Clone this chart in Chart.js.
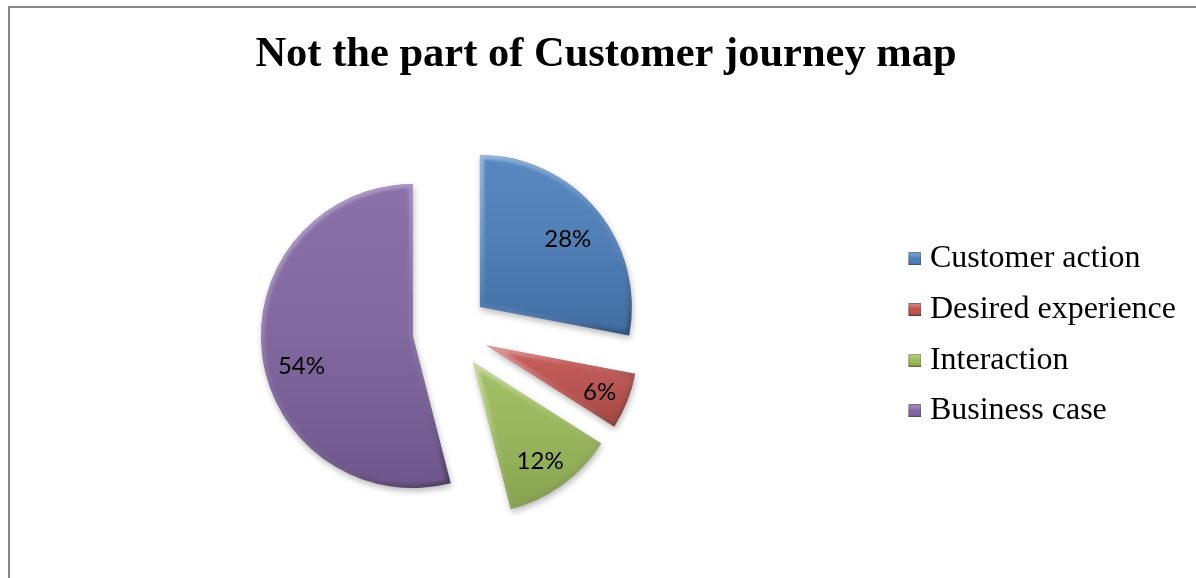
<!DOCTYPE html>
<html>
<head>
<meta charset="utf-8">
<title>Not the part of Customer journey map</title>
<script src="https://cdn.jsdelivr.net/npm/chart.js@4/dist/chart.umd.min.js"></script>
<style>
  html, body { margin: 0; padding: 0; background: #fff; overflow: hidden; }
  #frame {
    position: absolute; left: 8px; top: 6px;
    width: 1300px; height: 700px;
    border: 2px solid #878787;
  }
  #wrap { position: absolute; left: 0; top: 0; width: 1196px; height: 578px; }
</style>
</head>
<body>
<div id="frame"></div>
<div id="wrap"><canvas id="chart-journey"></canvas></div>
<script>
// survey answers, share of respondents in %
const categories = ['Customer action', 'Desired experience', 'Interaction', 'Business case'];
const shares = [28, 6, 12, 54];
const sliceColors = ['#4a7ebb', '#c0504d', '#9bbb59', '#8064a2'];

// how far each slice is pulled out from the centre (px)
const EXPLODE = 38;
// where the % labels sit inside each slice: fraction of radius, angle nudge in degrees
const labelPlacement = [
  { r: 0.73, turn: 2 },
  { r: 0.81, turn: 1 },
  { r: 0.79, turn: 2 },
  { r: 0.76, turn: -8 },
];

/**
 * Arc that is drawn pulled away from the pie centre along its bisector,
 * with a soft shadow and a bevelled rim.
 */
class ExplodedArc extends Chart.ArcElement {
  draw(ctx) {
    const { x, y, startAngle, endAngle, outerRadius: r } = this;
    const mid = (startAngle + endAngle) / 2;
    const dx = Math.cos(mid) * EXPLODE;
    const dy = Math.sin(mid) * EXPLODE;

    ctx.save();
    ctx.translate(dx, dy);
    ctx.shadowColor = 'rgba(0,0,0,0.28)';
    ctx.shadowBlur = 6;
    ctx.shadowOffsetX = 1;
    ctx.shadowOffsetY = 3;
    super.draw(ctx);
    ctx.restore();

    // bounding box of the slice for the shading gradients
    let minX = x, maxX = x, minY = y, maxY = y;
    for (let i = 0; i <= 40; i++) {
      const a = startAngle + (endAngle - startAngle) * i / 40;
      const px = x + Math.cos(a) * r, py = y + Math.sin(a) * r;
      minX = Math.min(minX, px); maxX = Math.max(maxX, px);
      minY = Math.min(minY, py); maxY = Math.max(maxY, py);
    }

    ctx.save();
    ctx.translate(dx, dy);
    ctx.beginPath();
    ctx.moveTo(x, y);
    ctx.arc(x, y, r, startAngle, endAngle);
    ctx.closePath();
    ctx.clip();

    const shade = ctx.createLinearGradient(0, minY, 0, maxY);
    shade.addColorStop(0, 'rgba(255,255,255,0.08)');
    shade.addColorStop(1, 'rgba(0,0,0,0.14)');
    ctx.fillStyle = shade;
    ctx.fill();

    const rim = ctx.createLinearGradient(minX, minY, maxX, maxY);
    rim.addColorStop(0, 'rgba(255,255,255,0.40)');
    rim.addColorStop(0.5, 'rgba(255,255,255,0.06)');
    rim.addColorStop(1, 'rgba(0,0,0,0.30)');
    ctx.filter = 'blur(1.5px)';
    ctx.lineJoin = 'round';
    ctx.lineWidth = 8;
    ctx.strokeStyle = rim;
    ctx.stroke();
    ctx.restore();
  }
}
ExplodedArc.id = 'explodedArc';

class ExplodedPie extends Chart.PieController {}
ExplodedPie.id = 'explodedPie';
ExplodedPie.defaults = { dataElementType: 'explodedArc' };

Chart.register(ExplodedArc, ExplodedPie);

// small bevelled squares for the legend; the square sits at the right edge of the canvas
function legendMarker(color, width, size) {
  const c = document.createElement('canvas');
  c.width = width;
  c.height = size;
  const g = c.getContext('2d');
  const x0 = width - size;
  g.fillStyle = color;
  g.fillRect(x0, 0, size, size);
  const light = g.createLinearGradient(x0, 0, x0, size);
  light.addColorStop(0, 'rgba(255,255,255,0.35)');
  light.addColorStop(0.5, 'rgba(255,255,255,0)');
  light.addColorStop(1, 'rgba(0,0,0,0.25)');
  g.fillStyle = light;
  g.fillRect(x0, 0, size, size);
  g.strokeStyle = 'rgba(0,0,0,0.25)';
  g.lineWidth = 1;
  g.strokeRect(x0 + 0.5, 0.5, size - 1, size - 1);
  return c;
}
const markers = sliceColors.map(col => legendMarker(col, 35, 13));

// percentage labels inside the slices
const sliceLabels = {
  id: 'sliceLabels',
  afterDatasetsDraw(chart) {
    const { ctx } = chart;
    const meta = chart.getDatasetMeta(0);
    const values = chart.data.datasets[0].data;
    ctx.save();
    ctx.font = '24px Lato';
    ctx.fillStyle = '#000';
    ctx.textAlign = 'center';
    ctx.textBaseline = 'middle';
    meta.data.forEach((arc, i) => {
      const { x, y, startAngle, endAngle, outerRadius } = arc;
      const mid = (startAngle + endAngle) / 2;
      const vx = x + Math.cos(mid) * EXPLODE;
      const vy = y + Math.sin(mid) * EXPLODE;
      const place = labelPlacement[i];
      const a = mid + place.turn * Math.PI / 180;
      const lx = vx + Math.cos(a) * outerRadius * place.r;
      const ly = vy + Math.sin(a) * outerRadius * place.r;
      ctx.fillText(values[i] + '%', lx, ly);
    });
    ctx.restore();
  },
};

const baseLabels = Chart.PieController.overrides.plugins.legend.labels.generateLabels;

new Chart(document.getElementById('chart-journey'), {
  type: 'explodedPie',
  data: {
    labels: categories,
    datasets: [{
      data: shares,
      backgroundColor: sliceColors,
      borderWidth: 0,
      radius: 152,
    }],
  },
  options: {
    responsive: true,
    maintainAspectRatio: false,
    animation: false,
    events: [],
    layout: { padding: { left: 26, right: 10, top: 0, bottom: 0 } },
    plugins: {
      title: {
        display: true,
        text: 'Not the part of Customer journey map',
        color: '#000',
        font: { family: 'Liberation Serif', size: 42.5, weight: 'bold' },
        padding: { top: 29.5, bottom: 4 },
      },
      legend: {
        position: 'right',
        fullSize: false,
        // empty title only used as a small top spacer for the item column
        title: { display: true, text: '', font: { size: 6 } },
        labels: {
          color: '#000',
          font: { family: 'Liberation Serif', size: 32 },
          padding: 18.7,
          usePointStyle: true,
          pointStyleWidth: 20,
          boxHeight: 13,
          generateLabels(chart) {
            return baseLabels(chart).map((item, i) => {
              item.pointStyle = markers[i];
              return item;
            });
          },
        },
      },
      tooltip: { enabled: false },
    },
  },
  plugins: [sliceLabels],
});
</script>
</body>
</html>
